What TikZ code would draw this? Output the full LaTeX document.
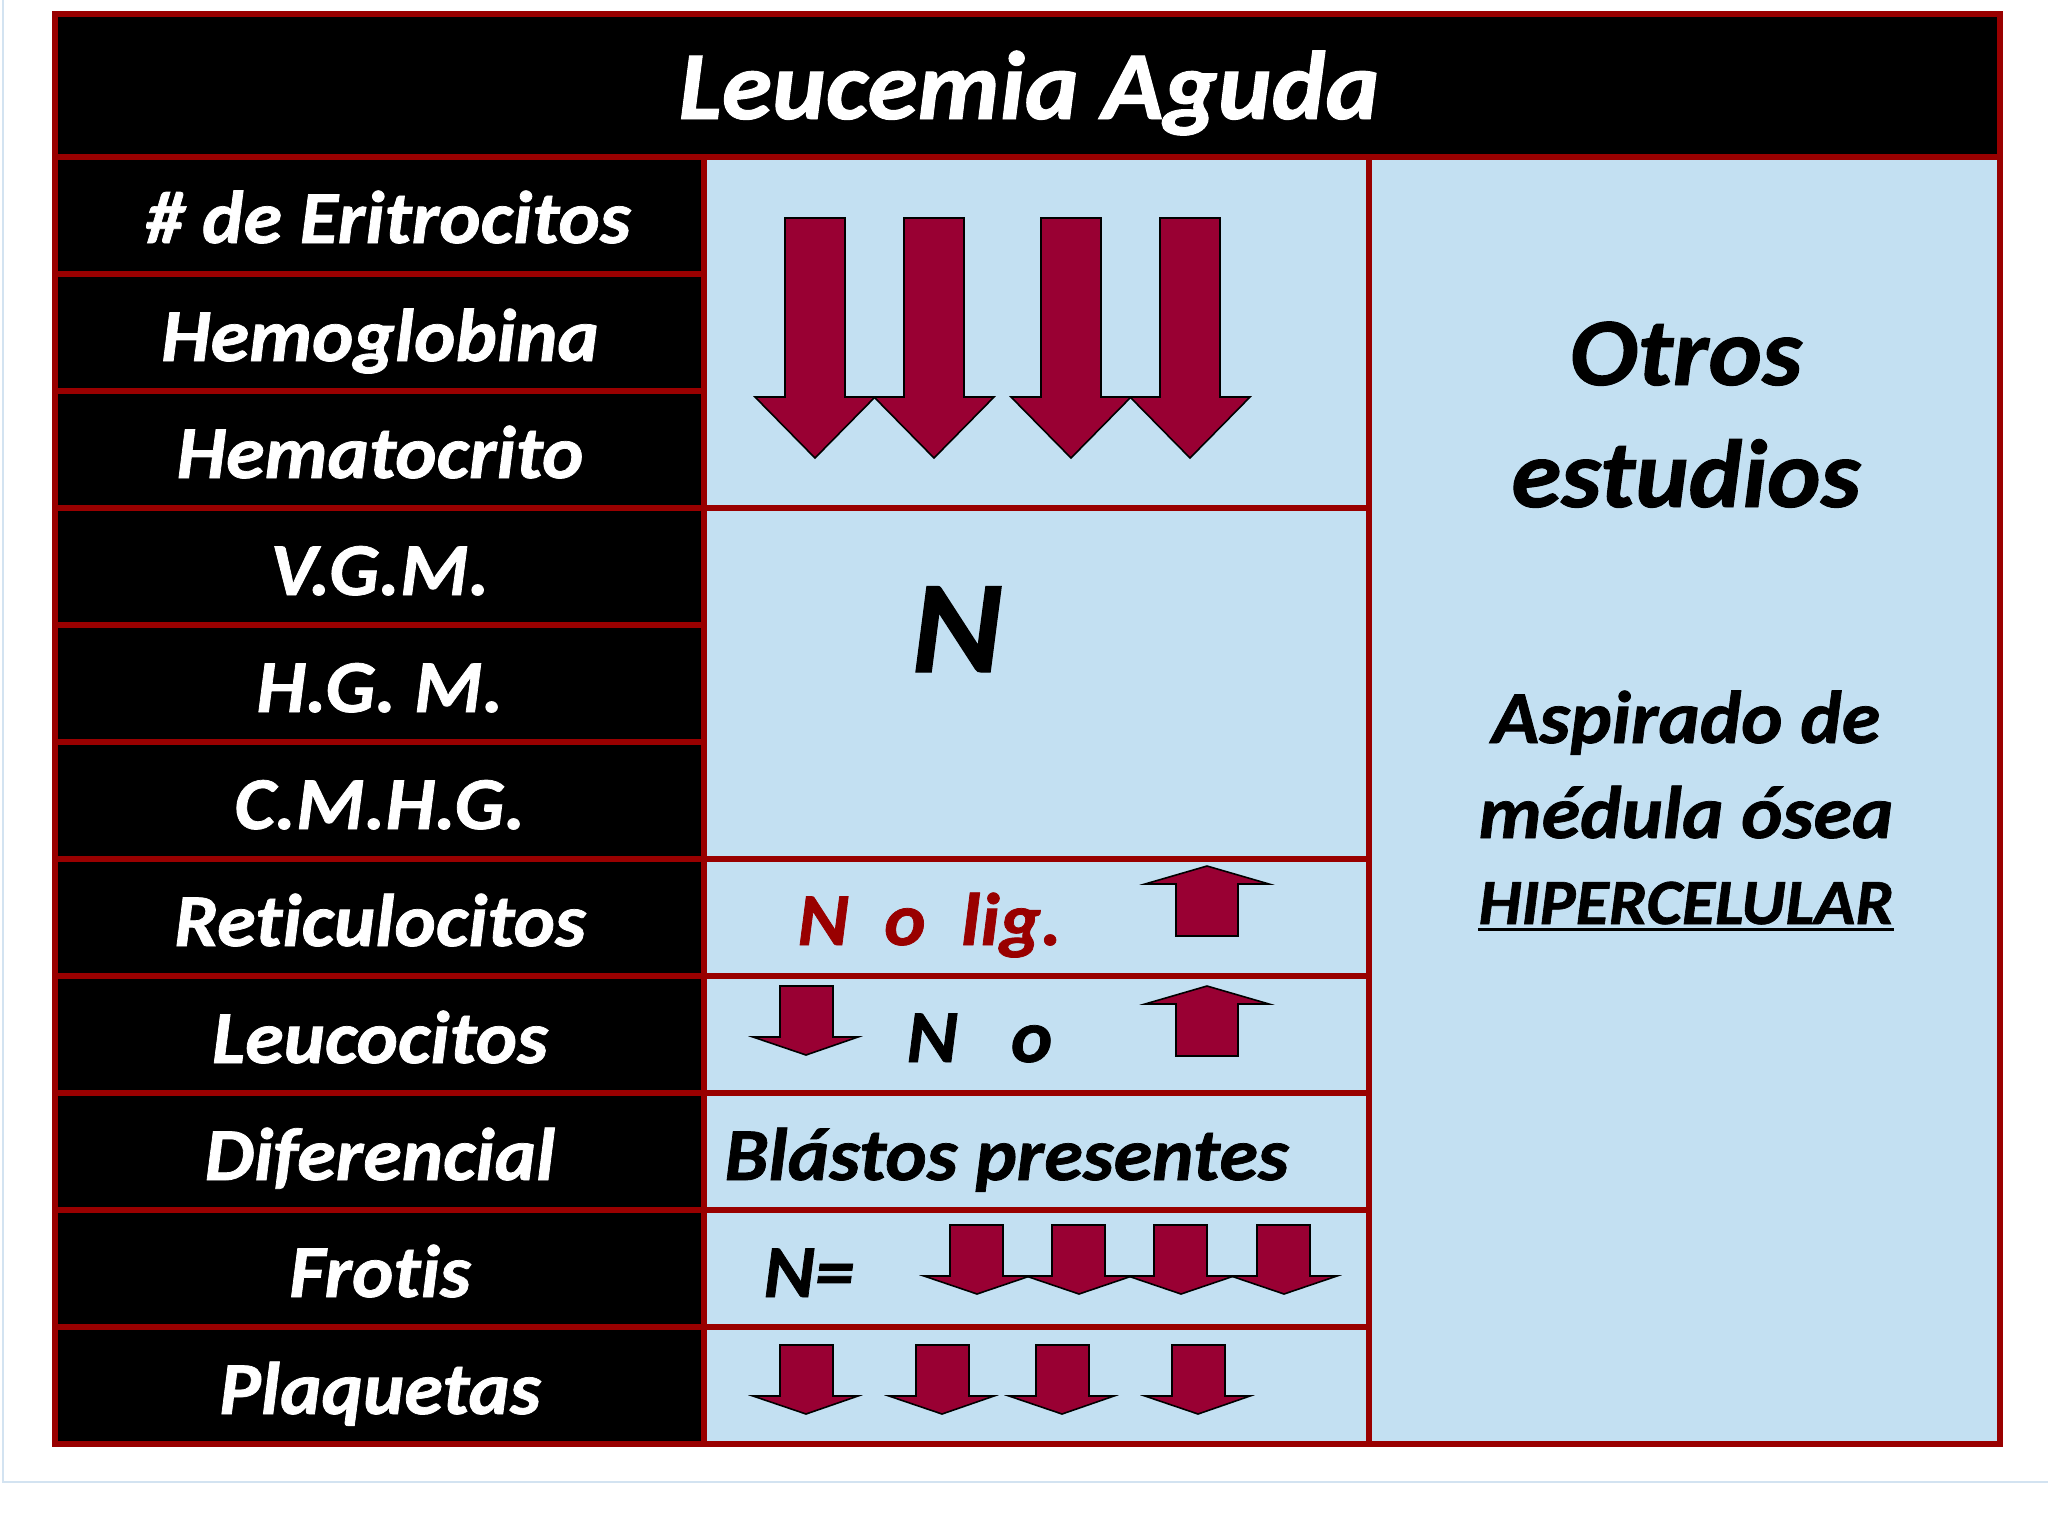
\documentclass[tikz,border=0pt]{standalone}
\usepackage{fontspec}
\setmainfont{Carlito}[Ligatures=NoCommon,BoldItalicFeatures={FakeStretch=1.05,FakeBold=1}]
\definecolor{framered}{rgb}{0.6,0,0}
\definecolor{cellblue}{HTML}{C3E0F2}
\definecolor{arrowred}{HTML}{990033}
\definecolor{pageline}{HTML}{D3E3F1}
\tikzset{every picture/.style={line width=0.75pt},
  blackcell/.style={draw=framered,fill=black,line width=5pt},
  bluecell/.style={draw=framered,fill=cellblue,line width=5pt},
  arrowshape/.style={draw=black,fill=arrowred,line width=1.2pt,line join=miter},
  titletext/.style={text=white,font=\bfseries\itshape\fontsize{73}{80}\selectfont,anchor=base,inner sep=0pt},
  rowtext/.style={text=white,font=\bfseries\itshape\fontsize{56}{60}\selectfont,anchor=base,inner sep=0pt},
  celltext/.style={text=black,font=\bfseries\itshape\fontsize{56}{60}\selectfont,anchor=base,inner sep=0pt}}
\begin{document}
\begin{tikzpicture}[x=0.75pt,y=0.75pt,yscale=-1,xscale=1]
\useasboundingbox (0,0) rectangle (2048,1536);
\fill[white] (0,0) rectangle (2048,1536);

%Page edge
\draw [pageline,line width=1.2pt] (3,0) -- (3,1482) -- (2048,1482);

%Title and row cells
\draw [blackcell] (55,14) rectangle (2000,157);
\draw [blackcell] (55,157) rectangle (704,274);
\draw [blackcell] (55,274) rectangle (704,391);
\draw [blackcell] (55,391) rectangle (704,508);
\draw [blackcell] (55,508) rectangle (704,625);
\draw [blackcell] (55,625) rectangle (704,742);
\draw [blackcell] (55,742) rectangle (704,859);
\draw [blackcell] (55,859) rectangle (704,976);
\draw [blackcell] (55,976) rectangle (704,1093);
\draw [blackcell] (55,1093) rectangle (704,1210);
\draw [blackcell] (55,1210) rectangle (704,1327);
\draw [blackcell] (55,1327) rectangle (704,1444);

%Value cells
\draw [bluecell] (704,157) rectangle (1369,508);
\draw [bluecell] (704,508) rectangle (1369,859);
\draw [bluecell] (704,859) rectangle (1369,976);
\draw [bluecell] (704,976) rectangle (1369,1093);
\draw [bluecell] (704,1093) rectangle (1369,1210);
\draw [bluecell] (704,1210) rectangle (1369,1327);
\draw [bluecell] (704,1327) rectangle (1369,1444);
\draw [bluecell] (1369,157) rectangle (2000,1444);

%Big down arrows
\draw [arrowshape] (785,218) -- (845,218) -- (845,397) -- (875,397) -- (815,458) -- (755,397) -- (785,397) -- cycle ;
\draw [arrowshape] (904,218) -- (964,218) -- (964,397) -- (994,397) -- (934,458) -- (874,397) -- (904,397) -- cycle ;
\draw [arrowshape] (1041,218) -- (1101,218) -- (1101,397) -- (1131,397) -- (1071,458) -- (1011,397) -- (1041,397) -- cycle ;
\draw [arrowshape] (1160,218) -- (1220,218) -- (1220,397) -- (1250,397) -- (1190,458) -- (1130,397) -- (1160,397) -- cycle ;

%Up arrows
\draw [arrowshape] (1176,936) -- (1238,936) -- (1238,884) -- (1269,884) -- (1207,866) -- (1145,884) -- (1176,884) -- cycle ;
\draw [arrowshape] (1176,1056) -- (1238,1056) -- (1238,1004) -- (1269,1004) -- (1207,986) -- (1145,1004) -- (1176,1004) -- cycle ;

%Leucocitos down arrow
\draw [arrowshape] (780,986) -- (833,986) -- (833,1037) -- (858,1037) -- (806,1055) -- (753,1037) -- (780,1037) -- cycle ;

%Frotis down arrows
\draw [arrowshape] (950,1225) -- (1003,1225) -- (1003,1276) -- (1030,1276) -- (977,1294) -- (924,1276) -- (950,1276) -- cycle ;
\draw [arrowshape] (1052,1225) -- (1105,1225) -- (1105,1276) -- (1132,1276) -- (1079,1294) -- (1026,1276) -- (1052,1276) -- cycle ;
\draw [arrowshape] (1154,1225) -- (1207,1225) -- (1207,1276) -- (1234,1276) -- (1181,1294) -- (1128,1276) -- (1154,1276) -- cycle ;
\draw [arrowshape] (1257,1225) -- (1310,1225) -- (1310,1276) -- (1337,1276) -- (1284,1294) -- (1231,1276) -- (1257,1276) -- cycle ;

%Plaquetas down arrows
\draw [arrowshape] (780,1345) -- (833,1345) -- (833,1396) -- (858,1396) -- (806,1414) -- (753,1396) -- (780,1396) -- cycle ;
\draw [arrowshape] (916,1345) -- (969,1345) -- (969,1396) -- (994,1396) -- (942,1414) -- (889,1396) -- (916,1396) -- cycle ;
\draw [arrowshape] (1036,1345) -- (1089,1345) -- (1089,1396) -- (1114,1396) -- (1062,1414) -- (1009,1396) -- (1036,1396) -- cycle ;
\draw [arrowshape] (1172,1345) -- (1225,1345) -- (1225,1396) -- (1250,1396) -- (1198,1414) -- (1145,1396) -- (1172,1396) -- cycle ;

% Text Node
\node [titletext] (title) at (1029,119) {Leucemia Aguda};
% Text Node
\node [rowtext] (eritrocitos) at (388,243) {\# de Eritrocitos};
\node [rowtext] (hemoglobina) at (380,361) {Hemoglobina};
\node [rowtext] (hematocrito) at (380,478) {Hematocrito};
\node [rowtext] (vgm) at (380,595) {V.G.M.};
\node [rowtext] (hgm) at (380,712) {H.G. M.};
\node [rowtext] (cmhg) at (380,829) {C.M.H.G.};
\node [rowtext] (reticulocitos) at (380,946) {Reticulocitos};
\node [rowtext] (leucocitos) at (380,1063) {Leucocitos};
\node [rowtext] (diferencial) at (380,1180) {Diferencial};
\node [rowtext] (frotis) at (380,1297) {Frotis};
\node [rowtext] (plaquetas) at (380,1414) {Plaquetas};
% Text Node
\node [celltext,font=\bfseries\itshape\fontsize{99}{104}\selectfont] (normal) at (957,672) {N};
\node [celltext,text=framered,anchor=base west] (retval) at (797,945) {N\ \ o\ \ lig.};
\node [celltext,anchor=base west] (leucoval) at (906,1062) {N\ \ \ o};
\node [celltext,anchor=base west] (blastos) at (724,1180) {Blástos presentes};
\node [celltext,anchor=base west] (frotisval) at (763,1297) {N=};
% Text Node
\node [celltext,font=\bfseries\itshape\fontsize{72.5}{80}\selectfont] (otros) at (1686,385) {Otros};
\node [celltext,font=\bfseries\itshape\fontsize{72.5}{80}\selectfont] (estudios) at (1686,507) {estudios};
\node [celltext,font=\bfseries\itshape\fontsize{56}{60}\selectfont] (aspirado) at (1686,743) {Aspirado de};
\node [celltext,font=\bfseries\itshape\fontsize{56}{60}\selectfont] (medula) at (1686,838) {médula ósea};
\node [celltext,font=\bfseries\itshape\fontsize{48.5}{52}\selectfont] (hiper) at (1686,924) {HIPERCELULAR};
\draw [line width=2.4pt] ([yshift=4pt]hiper.base west) -- ([yshift=4pt]hiper.base east) ;

\end{tikzpicture}
\end{document}
